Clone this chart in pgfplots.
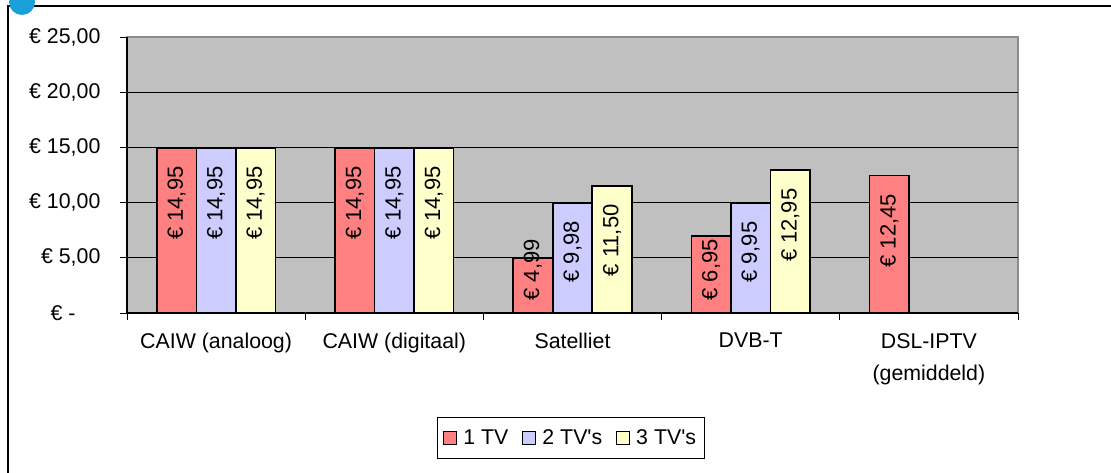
\documentclass[border=0pt]{standalone}
\usepackage{pgfplots}
\pgfplotsset{compat=1.18}
\usepackage{fontspec}
\setmainfont{Liberation Sans}
\definecolor{barred}{HTML}{FF8080}
\definecolor{barblue}{HTML}{CCCCFF}
\definecolor{baryellow}{HTML}{FFFFCC}
\definecolor{plotgray}{HTML}{C0C0C0}
\definecolor{rimgray}{HTML}{8C8C8C}
\definecolor{logoblue}{HTML}{1AA0D8}
\newcommand\chartfont{\fontsize{16}{21}\selectfont}
\pgfplotsset{
  sq legend/.style={legend image code/.code={%
    \draw[##1,line width=0.75pt] (0pt,-4.9pt) rectangle (9.75pt,4.9pt);}},
}

\begin{document}
\begin{tikzpicture}
\useasboundingbox (0pt,0pt) rectangle (833.25pt,-354pt);
% outer frame
\draw[line width=1.6pt] (6pt,-360pt) -- (6pt,-4.5pt) -- (840pt,-4.5pt);
\fill[logoblue] (16.5pt,-1.5pt) circle (9.75pt);
\begin{axis}[
  at={(95.25pt,-234.75pt)}, anchor=south west,
  scale only axis, width=668.25pt, height=207pt,
  xmin=-0.5, xmax=4.5, ymin=0, ymax=25,
  ybar=0pt, bar width=0.222,
  axis background/.style={fill=plotgray, draw=rimgray, line width=1.5pt},
  axis line style={draw=none},
  tick align=outside, major tick length=5.25pt,
  xtick pos=lower, ytick pos=left,
  tick style={black, line width=0.75pt},
  font=\chartfont,
  % category boundaries carry the tick marks
  xtick={-0.5,0.5,1.5,2.5,3.5,4.5},
  xticklabels={{},{},{},{},{},{}},
  extra x ticks={0,1,2,3,4},
  extra x tick labels={CAIW (analoog), CAIW (digitaal), Satelliet, DVB-T, {DSL-IPTV\\(gemiddeld)}},
  extra x tick style={major tick length=0pt,
    xticklabel style={align=center, anchor=north, inner sep=0pt, yshift=-15pt,
      font=\fontsize{16}{24}\selectfont}},
  ytick={0,5,10,15,20,25},
  yticklabels={{€ -\kern18.75pt},{€ 5,00},{€ 10,00},{€ 15,00},{€ 20,00},{€ 25,00}},
  yticklabel style={anchor=east, inner sep=0pt, xshift=-14.5pt, font=\chartfont},
  extra y ticks={5,10,15,20},
  extra y tick labels={},
  extra y tick style={grid=major, major tick length=0pt},
  major grid style={black, line width=0.75pt},
  visualization depends on={y \as \rawy},
  nodes near coords={€ \pgfmathprintnumber[fixed,fixed zerofill,precision=2,use comma,assume math mode=true]{\pgfplotspointmeta}},
  every node near coord/.append style={yshift={(max(\rawy-1.6,6.75)-\rawy)*8.28pt},
    rotate=90, anchor=east, inner sep=0pt, font=\fontsize{16.5}{21}\selectfont, black},
  legend columns=-1,
  legend style={at={(0.498,-0.4529)}, anchor=center, draw=black, line width=0.75pt,
    font=\chartfont, inner xsep=4pt, inner ysep=7pt,
    /tikz/every odd column/.append style={column sep=3pt},
    /tikz/every even column/.append style={column sep=8pt}},
  after end axis/.code={
    \draw[black, line width=1pt] (rel axis cs:0,1) -- (rel axis cs:0,0) -- (rel axis cs:1,0);
  },
]
\addplot[fill=barred, draw=black, line width=1.2pt, sq legend]
  coordinates {(0,14.95) (1,14.95) (2,4.99) (3,6.95) (4,12.45)};
\addplot[fill=barblue, draw=black, line width=1.2pt, sq legend]
  coordinates {(0,14.95) (1,14.95) (2,9.98) (3,9.95)};
\addplot[fill=baryellow, draw=black, line width=1.2pt, sq legend]
  coordinates {(0,14.95) (1,14.95) (2,11.50) (3,12.95)};
\legend{1 TV, 2 TV\textquotesingle s, 3 TV\textquotesingle s}
\end{axis}
\end{tikzpicture}
\end{document}
